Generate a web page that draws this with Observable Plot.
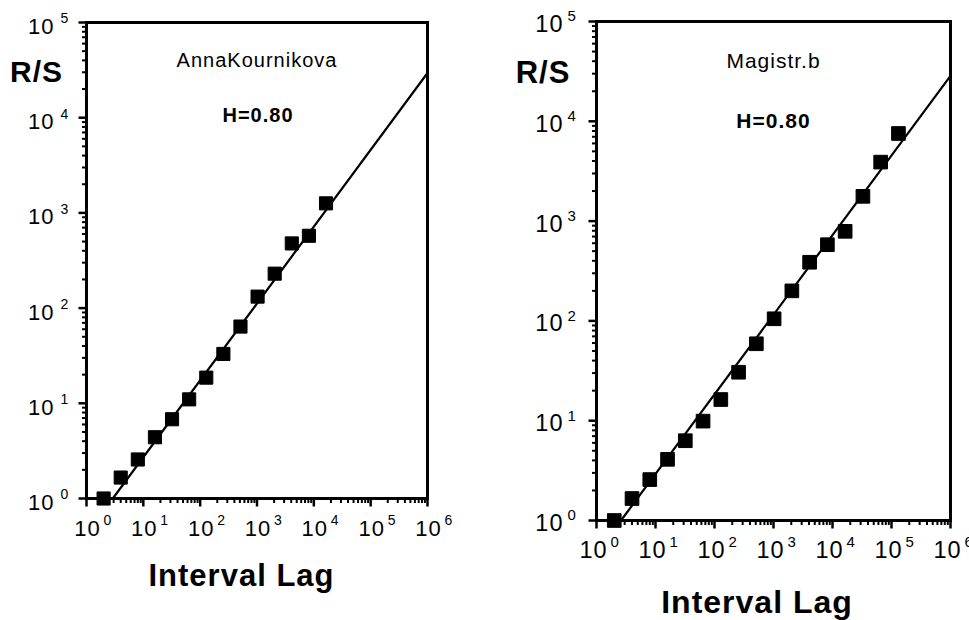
<!DOCTYPE html>
<html><head><meta charset="utf-8">
<script src="https://cdn.jsdelivr.net/npm/d3@7"></script>
<script src="https://cdn.jsdelivr.net/npm/@observablehq/plot@0.6"></script>
<style>
html,body{margin:0;padding:0;background:#fff;overflow:hidden;}
#wrap{position:relative;width:969px;height:620px;overflow:hidden;}
#wrap > svg{position:absolute;top:0;pointer-events:none;}
</style></head><body><div id="wrap"></div>
<script>
// ---- data ----
const lagsA = [2,4,8,16,32,64,128,256,512,1024,2048,4096,8192,16384];
const rsA   = [1.0,1.66,2.57,4.4,6.8,11,18.6,33,64,132,230,478,575,1260];
const fitXA = [2.9, 1e6];
const fitYA = [1, 29500];

const lagsB = [2,4,8,16,32,64,128,256,512,1024,2048,4096,8192,16384,32768,65536,131072];
const rsB   = [1.0,1.66,2.57,4.1,6.3,9.9,16.3,30.6,59,105,200,387,580,790,1770,3900,7550];
const fitXB = [2.6, 1e6];
const fitYB = [1, 28500];

const xTickValues = [1,10,100,1e3,1e4,1e5,1e6];
const xTickExps   = ["0","1","2","3","4","5","6"];
const yTickValues = [1,10,100,1e3,1e4,1e5];
const yTickExps   = ["0","1","2","3","4","5"];
const tickBase = "10";

const titleA = "AnnaKournikova";
const titleB = "Magistr.b";
const hLabel = "H=0.80";
const yLabel = "R/S";
const xLabel = "Interval Lag";

// ---- build ----
const xDomain = [1, 1e6], yDomain = [1, 1e5];
const isDecade = v => Math.abs(Math.log10(v) - Math.round(Math.log10(v))) < 1e-9;
const minorX = d3.scaleLog().domain(xDomain).ticks().filter(v => !isDecade(v));
const minorY = d3.scaleLog().domain(yDomain).ticks().filter(v => !isDecade(v));
const xTicks = xTickValues.map((v, i) => ({v, e: xTickExps[i]}));
const yTicks = yTickValues.map((v, i) => ({v, e: yTickExps[i]}));

// custom tick glyphs for Plot.dot: length = r
const tickDown = {draw(ctx, size) { const L = Math.sqrt(size / Math.PI); ctx.moveTo(0, 0); ctx.lineTo(0, L); }};
const tickLeft = {draw(ctx, size) { const L = Math.sqrt(size / Math.PI); ctx.moveTo(0, 0); ctx.lineTo(-L, 0); }};

function layer(p, marks) {
  const svg = Plot.plot({
    width: p.width, height: 620,
    marginLeft: p.ml, marginRight: p.mr, marginTop: p.mt, marginBottom: p.mb,
    x: {type: "log", domain: xDomain, axis: null},
    y: {type: "log", domain: yDomain, axis: null},
    style: {fontFamily: "'Liberation Sans', Arial, Helvetica, sans-serif", letterSpacing: "1px",
            background: "transparent", overflow: "visible", color: "black"},
    marks
  });
  svg.style.left = p.left + "px";
  return svg;
}

function panel(p) {
  const pts = p.lags.map((lag, i) => ({lag, rs: p.rs[i]}));
  const fit = p.fitX.map((x, i) => ({x, y: p.fitY[i]}));
  return [
    // x-axis ticks
    layer(p, [
      Plot.dot(minorX, {x: d => d, frameAnchor: "bottom", symbol: tickDown, r: 4.5, stroke: "black", strokeWidth: 2, fill: "none"}),
      Plot.dot(xTickValues, {x: d => d, frameAnchor: "bottom", symbol: tickDown, r: 8, stroke: "black", strokeWidth: 2.5, fill: "none"})
    ]),
    // y-axis ticks
    layer(p, [
      Plot.dot(minorY, {y: d => d, frameAnchor: "left", symbol: tickLeft, r: 4.5, stroke: "black", strokeWidth: 2, fill: "none"}),
      Plot.dot(yTickValues, {y: d => d, frameAnchor: "left", symbol: tickLeft, r: 8, stroke: "black", strokeWidth: 2.5, fill: "none"})
    ]),
    // frame, fit line, data
    layer(p, [
      Plot.frame({stroke: "black", strokeWidth: 3}),
      Plot.line(fit, {x: "x", y: "y", stroke: "black", strokeWidth: 2.2}),
      Plot.dot(pts, {x: "lag", y: "rs", symbol: "square", r: p.r, fill: "black", stroke: "black", strokeWidth: 1})
    ]),
    // texts
    layer(p, [
      Plot.text(xTicks, {x: "v", frameAnchor: "bottom", lineAnchor: "middle", text: () => tickBase, dx: p.xl.dx, dy: p.xl.dy, fontSize: p.tf, fill: "black"}),
      Plot.text(xTicks, {x: "v", frameAnchor: "bottom", lineAnchor: "middle", text: "e", textAnchor: "start", dx: p.xl.ex, dy: p.xl.ey, fontSize: p.ef, fill: "black"}),
      Plot.text(yTicks, {y: "v", frameAnchor: "left", lineAnchor: "middle", text: () => tickBase, textAnchor: "end", dx: p.yl.dx, dy: p.yl.dy, fontSize: p.tf, fill: "black"}),
      Plot.text(yTicks, {y: "v", frameAnchor: "left", lineAnchor: "middle", text: "e", textAnchor: "start", dx: p.yl.ex, dy: p.yl.ey, fontSize: p.ef, fill: "black"}),
      Plot.text([p.title], {frameAnchor: "top", lineAnchor: "middle", dx: p.t.dx, dy: p.t.dy, fontSize: p.t.fs, fill: "black"}),
      Plot.text([hLabel], {frameAnchor: "top", lineAnchor: "middle", dx: p.h.dx, dy: p.h.dy, fontSize: p.h.fs, fontWeight: "bold", fill: "black"}),
      Plot.text([yLabel], {frameAnchor: "top-left", lineAnchor: "middle", textAnchor: "middle", dx: p.ya.dx, dy: p.ya.dy, fontSize: p.ya.fs, fontWeight: "bold", fill: "black"}),
      Plot.text([xLabel], {frameAnchor: "bottom", lineAnchor: "middle", dx: p.xa.dx, dy: p.xa.dy, fontSize: p.xa.fs, fontWeight: "bold", fill: "black"})
    ])
  ];
}

const wrap = document.getElementById("wrap");
const panels = [
  panel({
    lags: lagsA, rs: rsA, fitX: fitXA, fitY: fitYA, title: titleA,
    left: 0, width: 470, ml: 86, mr: 43, mt: 22, mb: 122, r: 7.4,
    tf: 22, ef: 14,
    xl: {dx: 1, dy: 30, ex: 17, ey: 22},
    yl: {dx: -32, dy: 4.5, ex: -26, ey: -3.5},
    t: {dx: 0, dy: 38.5, fs: 20},
    h: {dx: 1, dy: 93.5, fs: 20},
    ya: {dx: -50, dy: 50, fs: 30},
    xa: {dx: -15.5, dy: 78, fs: 31}
  }),
  panel({
    lags: lagsB, rs: rsB, fitX: fitXB, fitY: fitYB, title: titleB,
    left: 470, width: 499, ml: 126, mr: 19, mt: 21, mb: 100, r: 7.7,
    tf: 23.5, ef: 15,
    xl: {dx: -3, dy: 30, ex: 14, ey: 22},
    yl: {dx: -33, dy: 3, ex: -29, ey: -5},
    t: {dx: 0, dy: 40, fs: 21},
    h: {dx: 0, dy: 99.5, fs: 21},
    ya: {dx: -53.5, dy: 52, fs: 31},
    xa: {dx: -16.5, dy: 82, fs: 32}
  })
];
panels.flat().forEach(svg => wrap.appendChild(svg));
</script></body></html>
